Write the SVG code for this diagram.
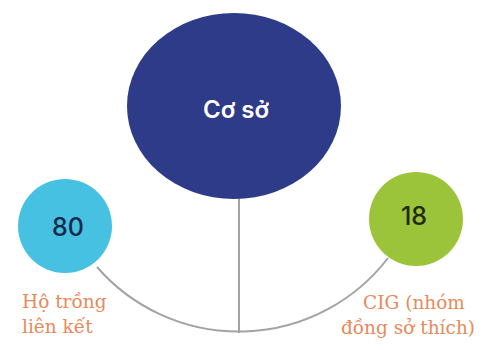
<svg xmlns="http://www.w3.org/2000/svg" width="483" height="350" viewBox="0 0 483 350">
<style>
.conn{fill:none;stroke:#a3a3a3;stroke-width:2}
.num{font-family:Inter,"Noto Sans",sans-serif;font-size:25px;font-weight:500;text-anchor:middle}
.title{font-size:24px;font-weight:600}
.lbl{font-family:"DejaVu Serif","Liberation Serif",serif;font-size:18.5px;fill:#e8895a}
</style>
<rect width="483" height="350" fill="#ffffff"/>
<g id="connectors">
<line class="conn" x1="239" y1="195" x2="239" y2="333"/>
<path class="conn" d="M97,267 A188,188 0 0 0 388,258"/>
</g>
<g id="node-coso">
<ellipse cx="234" cy="106" rx="107" ry="93" fill="#2e3b88"/>
<text x="236" y="118" class="num title" fill="#ffffff">Cơ sở</text>
</g>
<g id="node-ho">
<circle cx="65" cy="226" r="47" fill="#46c1e1"/>
<text x="68" y="236" class="num" fill="#15294a">80</text>
<text class="lbl" x="22" y="308">Hộ trồng</text>
<text class="lbl" x="22" y="333">liên kết</text>
</g>
<g id="node-cig">
<circle cx="416" cy="219" r="47" fill="#9bc43a"/>
<text x="414" y="225" class="num" fill="#1f2a10">18</text>
<text class="lbl" x="414" y="309" text-anchor="middle">CIG (nhóm</text>
<text class="lbl" x="408" y="334" text-anchor="middle">đồng sở thích)</text>
</g>
</svg>
